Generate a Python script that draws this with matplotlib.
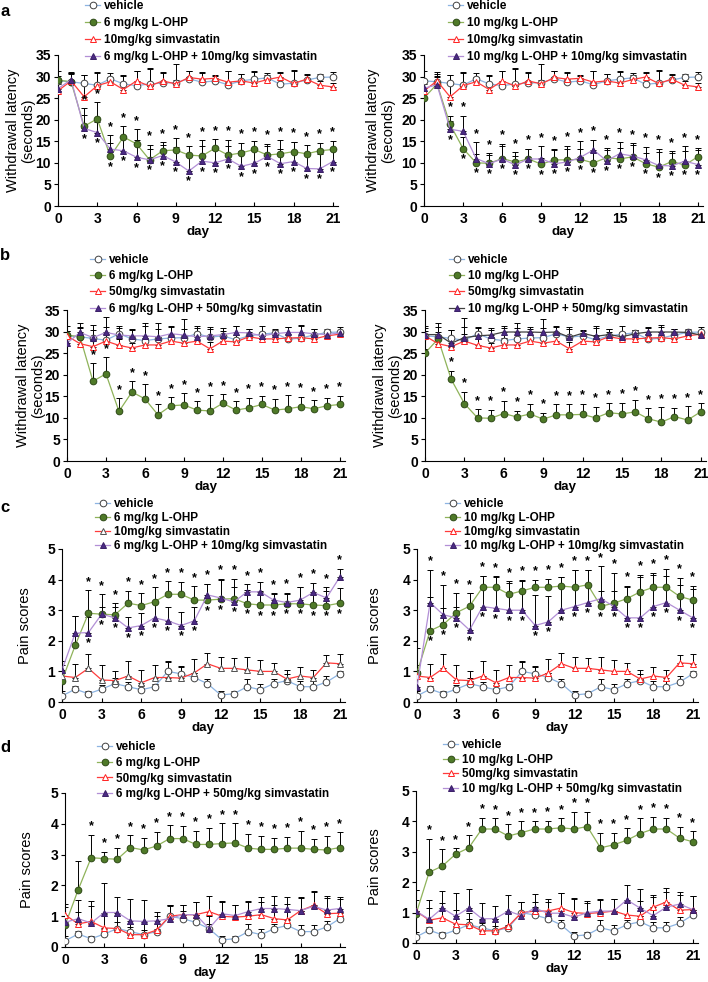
import matplotlib
matplotlib.use("Agg")
import matplotlib.pyplot as plt
import numpy as np

plt.rcParams['font.family'] = ['Liberation Sans', 'DejaVu Sans']

days = list(range(22))
day_ticks = [0, 3, 6, 9, 12, 15, 18, 21]

# withdrawal latency (seconds)
veh_lat = [29.0, 28.8, 28.4, 28.0, 29.5, 28.3, 27.9, 28.3, 28.5, 28.6, 29.5, 28.7, 29.0, 28.1, 29.0, 29.4, 29.7, 28.2, 28.5, 29.2, 29.8, 29.9]
veh_lat_err = [2.3, 2.2, 2.0, 3.0, 1.3, 2.0, 3.5, 3.6, 2.5, 4.2, 1.9, 2.3, 1.2, 3.2, 1.6, 1.9, 0.6, 2.8, 3.0, 1.3, 0.7, 1.1]
sim10_lat = [26.7, 29.0, 25.3, 27.9, 28.8, 27.0, 29.0, 27.8, 29.0, 28.3, 29.8, 29.4, 29.6, 28.7, 29.0, 28.5, 29.3, 29.9, 28.4, 29.4, 28.0, 27.6]
sim10_lat_err = [1.5, 1.5, 5.0, 3.0, 1.2, 3.2, 2.4, 4.0, 1.8, 1.0, 1.5, 1.5, 0.7, 2.5, 1.5, 2.5, 1.5, 1.0, 3.0, 1.0, 1.0, 1.0]
sim50_lat = [29.0, 27.2, 26.5, 27.8, 26.8, 26.2, 26.9, 26.9, 27.8, 27.3, 27.8, 26.0, 27.8, 27.6, 28.8, 28.3, 28.3, 28.5, 28.6, 28.3, 29.0, 29.4]
sim50_lat_err = [1.2, 1.5, 1.8, 1.6, 1.4, 1.2, 1.5, 1.6, 1.3, 1.2, 1.4, 1.6, 1.2, 1.5, 1.0, 1.2, 1.0, 1.0, 1.2, 1.0, 0.8, 0.6]
oxa6_lat = [29.2, 28.8, 18.5, 20.2, 11.5, 16.0, 14.4, 10.7, 12.8, 13.0, 11.8, 11.6, 13.4, 11.8, 12.3, 13.1, 11.8, 12.1, 12.6, 12.1, 12.8, 13.1]
oxa6_lat_err = [1.0, 2.0, 4.1, 3.8, 3.0, 2.5, 3.4, 2.4, 2.0, 2.7, 2.0, 3.6, 2.1, 2.0, 2.4, 2.0, 2.6, 3.1, 2.3, 2.0, 1.9, 2.0]
oxa10_lat = [25.0, 28.3, 18.9, 13.3, 10.0, 9.9, 11.0, 10.2, 10.9, 9.7, 10.7, 10.7, 10.8, 10.0, 11.2, 10.9, 11.4, 9.8, 9.0, 10.3, 9.5, 11.4]
oxa10_lat_err = [1.0, 1.5, 2.0, 2.8, 2.0, 2.0, 3.0, 1.4, 2.4, 1.5, 2.4, 2.5, 2.5, 2.6, 2.2, 2.6, 2.8, 2.4, 3.5, 2.1, 3.2, 2.0]
combo6_10_lat = [27.2, 29.3, 18.0, 17.0, 13.2, 12.8, 11.3, 10.7, 11.7, 10.2, 8.1, 10.4, 10.0, 10.9, 9.2, 9.9, 11.5, 9.8, 10.3, 8.7, 8.6, 10.3]
combo6_10_lat_err = [1.5, 1.5, 3.0, 2.5, 3.2, 3.5, 4.0, 3.5, 2.5, 3.5, 3.5, 3.5, 3.0, 4.5, 3.5, 3.5, 2.5, 3.5, 4.5, 3.5, 3.5, 3.0]
combo10_10_lat = [27.3, 28.1, 17.8, 17.3, 11.0, 9.8, 10.9, 9.5, 10.9, 10.9, 9.8, 10.2, 11.3, 13.0, 10.5, 12.1, 11.6, 10.7, 9.4, 9.3, 10.4, 9.6]
combo10_10_lat_err = [1.5, 2.0, 2.0, 3.6, 3.8, 2.4, 3.5, 3.0, 2.2, 3.0, 3.2, 3.8, 3.7, 2.4, 2.5, 2.8, 3.0, 3.0, 3.9, 3.4, 3.5, 3.4]
combo6_50_lat = [27.3, 29.8, 28.6, 29.8, 29.2, 29.0, 29.0, 28.8, 29.5, 29.2, 28.8, 29.0, 29.3, 29.8, 29.7, 29.0, 29.5, 29.8, 29.8, 29.5, 29.3, 29.7]
combo6_50_lat_err = [1.5, 2.2, 3.0, 3.5, 2.0, 1.6, 3.0, 1.8, 1.8, 1.5, 2.0, 1.5, 1.5, 1.5, 1.0, 1.0, 1.2, 1.2, 1.6, 1.2, 0.5, 0.5]
combo10_50_lat = [29.3, 29.3, 27.3, 28.6, 29.0, 29.2, 29.9, 29.9, 29.9, 29.8, 29.9, 28.7, 29.6, 28.9, 29.3, 28.8, 29.5, 29.9, 29.9, 29.9, 29.8, 29.2]
combo10_50_lat_err = [1.5, 2.8, 3.0, 4.5, 2.0, 1.6, 1.0, 1.0, 0.8, 1.0, 1.2, 2.0, 0.8, 2.0, 1.2, 1.0, 0.8, 1.0, 1.2, 0.8, 0.5, 0.6]

# pain scores
veh_pain = [0.2, 0.42, 0.27, 0.42, 0.6, 0.5, 0.4, 0.5, 1.0, 0.92, 0.8, 0.6, 0.23, 0.27, 0.5, 0.4, 0.6, 0.7, 0.5, 0.5, 0.65, 0.92]
veh_pain_err = [0.15, 0.1, 0.1, 0.15, 0.2, 0.15, 0.15, 0.1, 0.35, 0.25, 0.15, 0.15, 0.12, 0.1, 0.25, 0.2, 0.15, 0.2, 0.2, 0.2, 0.2, 0.1]
sim10_pain = [0.85, 0.8, 1.1, 0.72, 0.7, 0.85, 0.63, 0.8, 0.8, 0.78, 0.95, 1.25, 1.1, 1.1, 1.05, 1.0, 1.0, 0.75, 0.85, 0.8, 1.28, 1.25]
sim10_pain_err = [0.35, 0.45, 0.48, 0.5, 0.3, 0.5, 0.4, 0.4, 0.5, 0.35, 0.45, 0.35, 0.37, 0.35, 0.43, 0.38, 0.27, 0.28, 0.3, 0.25, 0.25, 0.33]
sim50_pain = [1.05, 0.75, 0.83, 0.62, 0.6, 0.4, 0.4, 0.55, 1.0, 1.05, 1.05, 1.15, 1.0, 0.97, 1.0, 1.05, 0.92, 0.88, 1.18, 1.35, 1.08, 1.1]
sim50_pain_err = [0.35, 0.4, 0.5, 0.45, 0.4, 0.35, 0.4, 0.45, 0.35, 0.3, 0.4, 0.5, 0.45, 0.4, 0.45, 0.4, 0.45, 0.5, 0.4, 0.45, 0.5, 0.45]
oxa6_pain = [0.7, 1.85, 2.9, 2.87, 2.85, 3.23, 3.15, 3.28, 3.52, 3.52, 3.33, 3.33, 3.36, 3.38, 3.21, 3.17, 3.17, 3.21, 3.21, 3.17, 3.15, 3.23]
oxa6_pain_err = [0.3, 0.95, 0.75, 0.22, 0.37, 0.4, 0.4, 0.47, 0.43, 0.41, 0.45, 0.54, 0.66, 0.64, 0.46, 0.45, 0.38, 0.36, 0.56, 0.35, 0.47, 0.49]
oxa10_pain = [0.95, 2.33, 2.53, 2.92, 3.13, 3.75, 3.75, 3.52, 3.63, 3.75, 3.75, 3.79, 3.75, 3.83, 3.13, 3.23, 3.38, 3.6, 3.75, 3.75, 3.45, 3.33]
oxa10_pain_err = [0.8, 1.1, 0.55, 0.2, 0.42, 0.37, 0.35, 0.38, 0.37, 0.25, 0.27, 0.31, 0.57, 0.49, 0.49, 0.39, 0.39, 0.5, 0.4, 0.37, 0.38, 0.35]
combo6_10_pain = [1.05, 2.25, 2.27, 2.87, 2.75, 2.42, 2.5, 2.75, 2.65, 2.5, 2.65, 3.5, 3.4, 3.27, 3.6, 3.6, 3.33, 3.25, 3.33, 3.58, 3.4, 4.08]
combo6_10_pain_err = [0.3, 0.55, 0.5, 0.65, 0.35, 0.35, 0.42, 0.5, 0.47, 0.45, 0.45, 0.37, 0.6, 0.5, 0.25, 0.32, 0.2, 0.28, 0.42, 0.32, 0.35, 0.28]
combo10_10_pain = [0.5, 3.25, 2.85, 2.75, 2.35, 3.12, 3.06, 3.0, 3.0, 2.5, 2.62, 3.0, 3.12, 3.25, 3.38, 3.12, 2.75, 2.75, 3.12, 3.25, 3.0, 2.75]
combo10_10_pain_err = [0.5, 1.07, 0.98, 0.82, 1.2, 1.0, 1.05, 0.95, 0.97, 1.0, 0.85, 1.1, 1.2, 1.05, 1.05, 1.1, 1.05, 1.4, 1.1, 1.1, 1.05, 1.05]
combo6_50_pain = [0.8, 0.92, 0.78, 1.12, 1.12, 0.85, 0.83, 0.85, 0.92, 1.05, 1.05, 0.6, 1.08, 1.02, 1.15, 1.25, 1.25, 1.22, 1.18, 1.32, 1.2, 1.25]
combo6_50_pain_err = [0.5, 0.6, 0.7, 0.95, 0.5, 0.72, 0.7, 0.3, 0.4, 0.3, 0.42, 0.4, 0.4, 0.35, 0.35, 0.37, 0.42, 0.4, 0.45, 0.5, 0.45, 0.38]
combo10_50_pain = [1.05, 0.78, 1.15, 0.88, 1.15, 0.8, 0.8, 1.05, 0.9, 1.15, 0.98, 0.98, 0.85, 1.0, 1.05, 1.05, 1.42, 1.15, 0.9, 1.18, 1.28, 1.1]
combo10_50_pain_err = [0.7, 0.65, 0.55, 0.75, 0.62, 0.5, 0.42, 0.52, 0.45, 0.45, 0.37, 0.68, 0.62, 0.33, 0.35, 0.4, 0.5, 0.62, 0.6, 0.5, 0.4, 0.45]

W, H = 708, 982

VEH = dict(color='#8db4e2', marker='o', mfc='white', mec='#404040')
OXA = dict(color='#8fb35a', marker='o', mfc='#4f7a28', mec='#2f4a18')
SIM = dict(color='#ff3b3b', marker='^', mfc='white', mec='#ff2020')
COMBO = dict(color='#b28fd6', marker='^', mfc='#4b2a84', mec='#3a1f66')

lat_label = 'Withdrawal latency\n(seconds)'
pain_label = 'Pain scores'

# letter, rect px (l, t, r, b), letter y px, ylabel right edge px, legend x/top px,
# labelspacing, ymax, ystep, ylabel, series, first starred day, star mode
panels = [
    ('a', (58, 55, 338, 206), 11, 35, 85, 0, 0.43, 35, 5, lat_label,
     [(veh_lat, veh_lat_err, 'vehicle', VEH),
      (oxa6_lat, oxa6_lat_err, '6 mg/kg L-OHP', OXA),
      (sim10_lat, sim10_lat_err, '10mg/kg simvastatin', SIM),
      (combo6_10_lat, combo6_10_lat_err, '6 mg/kg L-OHP + 10mg/kg simvastatin', COMBO)], 2, 'both'),
    (None, (424, 55, 703, 206), 0, 395, 448, 0, 0.43, 35, 5, lat_label,
     [(veh_lat, veh_lat_err, 'vehicle', VEH),
      (oxa10_lat, oxa10_lat_err, '10 mg/kg L-OHP', OXA),
      (sim10_lat, sim10_lat_err, '10mg/kg simvastatin', SIM),
      (combo10_10_lat, combo10_10_lat_err, '10 mg/kg L-OHP + 10mg/kg simvastatin', COMBO)], 2, 'both'),
    ('b', (67, 310, 345, 461), 256, 45, 90, 254, 0.36, 35, 5, lat_label,
     [(veh_lat, veh_lat_err, 'vehicle', VEH),
      (oxa6_lat, oxa6_lat_err, '6 mg/kg L-OHP', OXA),
      (sim50_lat, sim50_lat_err, '50mg/kg simvastatin', SIM),
      (combo6_50_lat, combo6_50_lat_err, '6 mg/kg L-OHP + 50mg/kg simvastatin', COMBO)], 2, 'top'),
    (None, (425, 310, 706, 461), 0, 402, 449, 254, 0.36, 35, 5, lat_label,
     [(veh_lat, veh_lat_err, 'vehicle', VEH),
      (oxa10_lat, oxa10_lat_err, '10 mg/kg L-OHP', OXA),
      (sim50_lat, sim50_lat_err, '50mg/kg simvastatin', SIM),
      (combo10_50_lat, combo10_50_lat_err, '10 mg/kg L-OHP + 50mg/kg simvastatin', dict(COMBO, color='#404040'))], 2, 'top'),
    ('c', (62, 549, 345, 702), 507, 32, 95, 498, 0.16, 5, 1, pain_label,
     [(veh_pain, veh_pain_err, 'vehicle', VEH),
      (oxa6_pain, oxa6_pain_err, '6 mg/kg L-OHP', OXA),
      (sim10_pain, sim10_pain_err, '10mg/kg simvastatin', dict(SIM, mec='#505050')),
      (combo6_10_pain, combo6_10_pain_err, '6 mg/kg L-OHP + 10mg/kg simvastatin', COMBO)], 2, 'both'),
    (None, (417, 549, 698, 702), 0, 382, 445, 498, 0.16, 5, 1, pain_label,
     [(veh_pain, veh_pain_err, 'vehicle', VEH),
      (oxa10_pain, oxa10_pain_err, '10 mg/kg L-OHP', OXA),
      (sim10_pain, sim10_pain_err, '10mg/kg simvastatin', SIM),
      (combo10_10_pain, combo10_10_pain_err, '10 mg/kg L-OHP + 10mg/kg simvastatin', COMBO)], 1, 'both'),
    ('d', (65, 793, 345, 947), 748, 34, 97, 741, 0.32, 5, 1, pain_label,
     [(veh_pain, veh_pain_err, 'vehicle', VEH),
      (oxa6_pain, oxa6_pain_err, '6 mg/kg L-OHP', OXA),
      (sim50_pain, sim50_pain_err, '50mg/kg simvastatin', SIM),
      (combo6_50_pain, combo6_50_pain_err, '6 mg/kg L-OHP + 50mg/kg simvastatin', COMBO)], 2, 'top'),
    (None, (416, 791, 698, 943), 0, 382, 443, 739, 0.23, 5, 1, pain_label,
     [(veh_pain, veh_pain_err, 'vehicle', VEH),
      (oxa10_pain, oxa10_pain_err, '10 mg/kg L-OHP', OXA),
      (sim50_pain, sim50_pain_err, '50mg/kg simvastatin', SIM),
      (combo10_50_pain, combo10_50_pain_err, '10 mg/kg L-OHP + 50mg/kg simvastatin', COMBO)], 1, 'top'),
]

fig = plt.figure(figsize=(W / 100, H / 100), dpi=100)

for (letter, rect, letter_y, ylab_x, leg_x, leg_y, lspace, ymax, ystep, ylabel,
     series, star_from, star_mode) in panels:
    l, t, r, b = rect
    ax = fig.add_axes([l / W, 1 - b / H, (r - l) / W, (b - t) / H])
    x = np.array(days)
    handles = []
    for vals, err, label, style in series:
        vals = np.array(vals)
        err = np.array(err)
        ax.errorbar(x, vals, yerr=[np.zeros_like(err), err], fmt='none', ecolor='black',
                    elinewidth=0.7, capsize=2, capthick=0.7, zorder=2)
        ln, = ax.plot(x, vals, color=style['color'], lw=0.9, marker=style['marker'],
                      markersize=4.8, markerfacecolor=style['mfc'], markeredgecolor=style['mec'],
                      markeredgewidth=0.7, label=label, zorder=3)
        handles.append(ln)

    # significance stars for the L-OHP groups
    drug = [series[1], series[3]] if star_mode == 'both' else [series[1]]
    off_top = 0.055 * ymax
    off_bot = 0.07 * ymax
    for d in days[star_from:]:
        tops = [vals[d] + err[d] for vals, err, _, _ in drug]
        ax.text(d, max(tops) + off_top, '*', ha='center', va='center', fontsize=9,
                fontweight='bold', zorder=4)
        if star_mode == 'both':
            lows = [vals[d] for vals, err, _, _ in drug]
            ax.text(d, min(lows) - off_bot, '*', ha='center', va='center', fontsize=9,
                    fontweight='bold', zorder=4)

    ax.set_xlim(0, 21.4)
    ax.set_ylim(0, ymax)
    ax.set_xticks(day_ticks)
    ax.set_yticks(np.arange(0, ymax + 0.01, ystep))
    ax.spines['top'].set_visible(False)
    ax.spines['right'].set_visible(False)
    for sp in ['left', 'bottom']:
        ax.spines[sp].set_linewidth(0.8)
    ax.tick_params(axis='x', direction='in', length=3, width=0.8, pad=4)
    ax.tick_params(axis='y', direction='out', length=3, width=0.8, pad=2)
    for lab in ax.get_xticklabels() + ax.get_yticklabels():
        lab.set_fontsize(10)
        lab.set_fontweight('bold')
    ax.set_xlabel('day', fontsize=9.6, fontweight='bold', labelpad=0)
    ax.set_ylabel(ylabel, fontsize=10.5, linespacing=1.1)
    ax.yaxis.set_label_coords((ylab_x - l) / (r - l), 0.5)

    ax.legend(handles=handles, loc='upper left', bbox_to_anchor=(leg_x / W, 1 - leg_y / H),
              bbox_transform=fig.transFigure, frameon=False, borderpad=0, borderaxespad=0,
              handlelength=1.3, handletextpad=0.3, labelspacing=lspace,
              prop={'size': 8.5, 'weight': 'bold'})

    if letter:
        fig.text(5 / W, 1 - letter_y / H, letter, fontsize=12, fontweight='bold',
                 ha='center', va='center')

fig.savefig('out.png', dpi=100)
